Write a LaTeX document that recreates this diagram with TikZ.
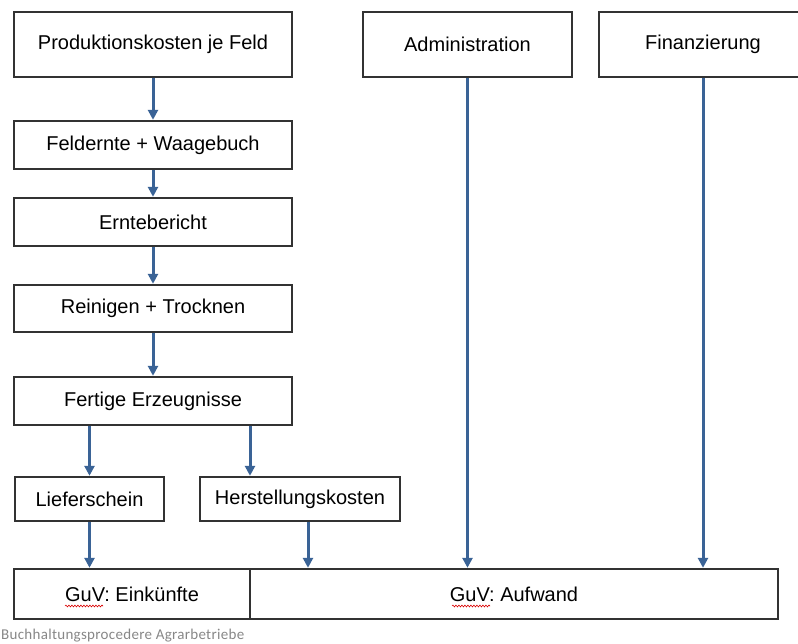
\documentclass[tikz,border=0pt]{standalone}
\usepackage{fontspec}
\setmainfont{Liberation Sans}
\newfontfamily\capfont[LetterSpace=2]{Carlito}
\usetikzlibrary{arrows.meta,calc,decorations.pathmorphing}
\definecolor{flowblue}{RGB}{58,99,150}
\definecolor{boxline}{RGB}{50,50,50}
\definecolor{capgray}{RGB}{135,135,135}
\tikzset{
  box/.style={draw=boxline,line width=1.2pt,rectangle,inner sep=0pt,
    font=\fontsize{20}{23}\selectfont,text=black},
  flow/.style={draw=flowblue,line width=3pt,
    -{Triangle[length=10pt,width=10pt]},shorten >=0.6pt},
  spell/.style={draw=red!85!black,line width=0.6pt,
    decorate,decoration={snake,amplitude=0.9pt,segment length=3pt}}
}
\begin{document}
\begin{tikzpicture}[x=1pt,y=-1pt]
\useasboundingbox (0,0) rectangle (798,644);
\clip (0,0) rectangle (798,644);
% left column: production chain
\node[box,minimum width=278,minimum height=65] (prod) at (153,44.5) {Produktionskosten je Feld};
\node[box,minimum width=278,minimum height=48] (feld) at (153,145) {Feldernte + Waagebuch};
\node[box,minimum width=278,minimum height=48] (ernte) at (153,222) {Erntebericht};
\node[box,minimum width=278,minimum height=47] (rein) at (153,308.5) {Reinigen + Trocknen};
\node[box,minimum width=278,minimum height=48] (fert) at (153,401) {Fertige Erzeugnisse};
\node[box,minimum width=149,minimum height=44] (lief) at (89.5,499) {Lieferschein};
\node[box,minimum width=200,minimum height=44] (herst) at (300,499) {Herstellungskosten};
% cost sources on the right
\node[box,minimum width=209,minimum height=65] (adm) at (467.5,44.5) {Administration};
\node[box,minimum width=208,minimum height=65] (fin) at (703,44.5) {Finanzierung};
% profit and loss statement
\node[box,minimum width=236,minimum height=50] (guv1) at (132,594) {GuV: Einkünfte};
\node[box,minimum width=528,minimum height=50] (guv2) at (514,594) {GuV: Aufwand};
% spelling marks under "GuV"
\draw[spell] (65,606) -- (103,606);
\draw[spell] (452,606) -- (490,606);
% connectors
\draw[flow] (prod) -- (feld);
\draw[flow] (feld) -- (ernte);
\draw[flow] (ernte) -- (rein);
\draw[flow] (rein) -- (fert);
\draw[flow] (fert.south -| lief.north) -- (lief.north);
\draw[flow] ($(fert.south -| herst.north)+(-50,0)$) -- ($(herst.north)+(-50,0)$);
\draw[flow] (lief.south) -- (lief.south |- guv1.north);
\draw[flow] ($(herst.south)+(8,0)$) -- ($(herst.south |- guv2.north)+(8,0)$);
\draw[flow] (adm.south) -- (adm.south |- guv2.north);
\draw[flow] (fin.south) -- (fin.south |- guv2.north);
% caption
\node[anchor=base west,inner sep=0pt,font=\capfont\fontsize{15}{17}\selectfont,text=capgray] (cap) at (1,639.5) {Buchhaltungsprocedere Agrarbetriebe};
\end{tikzpicture}
\end{document}
